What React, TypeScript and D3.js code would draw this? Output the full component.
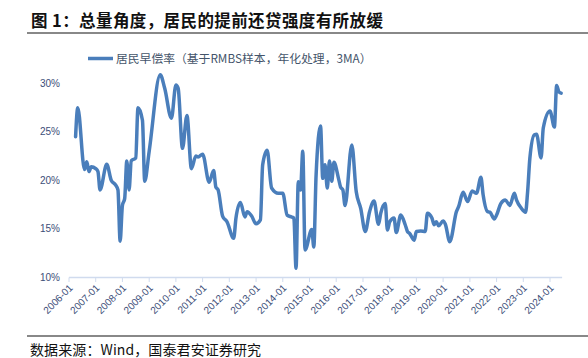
import React from "react";
import * as d3 from "d3";

const dates: string[] = [
  "2006-04","2006-05","2006-08","2006-09","2006-10","2006-11","2007-01","2007-02","2007-03","2007-06",
  "2007-08","2007-10","2007-11","2007-12","2008-01","2008-02","2008-03","2008-04","2008-05","2008-07",
  "2008-08","2008-10","2008-11","2009-01","2009-06","2009-08","2009-11","2010-01","2010-02","2010-04",
  "2010-06","2010-08","2010-10","2010-11","2011-01","2011-04","2011-06","2011-07","2011-08","2011-10",
  "2011-12","2012-03","2012-04","2012-06","2012-08","2012-09","2012-11","2013-01","2013-03","2013-04",
  "2013-06","2013-08","2013-11","2014-01","2014-03","2014-05","2014-06","2014-07","2014-08","2014-09",
  "2014-10","2014-11","2015-02","2015-03","2015-04","2015-06","2015-07","2015-08","2015-09","2015-10",
  "2015-11","2015-12","2016-02","2016-03","2016-04","2016-05","2016-08","2016-10","2016-12","2017-02",
  "2017-04","2017-06","2017-08","2017-09","2017-11","2017-12","2018-01","2018-03","2018-04","2018-06",
  "2018-08","2018-09","2018-10","2018-12","2019-01","2019-03","2019-05","2019-06","2019-08","2019-09",
  "2019-10","2019-11","2020-01","2020-02","2020-04","2020-07","2020-08","2020-10","2020-12","2021-02",
  "2021-04","2021-06","2021-07","2021-09","2021-10","2021-12","2022-01","2022-03","2022-05","2022-07",
  "2022-09","2022-10","2022-12","2023-02","2023-03","2023-04","2023-06","2023-07","2023-09","2023-10",
  "2024-01","2024-03","2024-04","2024-05","2024-06"
];

const prepayRate: number[] = [
  24.5,27.5,21.1,21.9,20.9,21.4,21.2,20.9,19.0,21.65,
  20.0,19.5,19.0,13.7,17.4,18.1,22.0,19.0,22.0,22.3,
  27.5,26.2,19.9,23.0,30.9,29.5,26.4,29.85,29.5,23.3,
  26.7,21.2,22.5,22.4,22.7,19.8,21.0,19.3,19.0,16.3,
  15.7,14.0,16.1,17.7,16.2,16.75,16.3,15.5,15.9,21.6,
  23.1,19.2,18.65,18.65,16.4,16.2,16.1,10.9,19.85,19.0,
  23.0,12.8,14.9,13.1,20.5,25.6,20.2,21.6,19.2,22.0,
  19.9,21.85,20.2,19.3,19.0,17.4,23.65,18.8,17.1,14.7,
  16.75,17.85,15.45,16.6,17.6,14.85,15.7,16.1,14.6,16.4,
  15.4,14.7,14.5,13.8,14.7,14.75,14.7,16.6,16.1,15.4,
  15.7,15.3,15.8,15.45,13.65,16.75,17.3,18.75,17.8,18.9,
  18.65,20.3,18.5,16.75,16.7,16.0,16.4,17.6,17.95,17.4,
  18.65,17.95,17.15,16.7,18.8,22.3,24.7,24.75,22.3,25.4,
  27.15,25.5,29.8,29.15,29.0
];

const yTicks: number[] = [10, 15, 20, 25, 30];
const xTickYears: number[] = [2006,2007,2008,2009,2010,2011,2012,2013,2014,2015,2016,2017,2018,2019,2020,2021,2022,2023,2024];

const titleText = "图 1：总量角度，居民的提前还贷强度有所放缓";
const legendText = "居民早偿率（基于RMBS样本，年化处理，3MA）";
const sourceText = "数据来源：Wind，国泰君安证券研究";

export default function App() {
  const W = 588, H = 358;
  const parse = d3.timeParse("%Y-%m");
  const data = dates.map((d, i) => ({ date: parse(d) as Date, value: prepayRate[i] }));

  const x = d3.scaleTime()
    .domain([new Date(2006, 0, 1), new Date(2024, 0, 1)])
    .range([69, 550]);
  const y = d3.scaleLinear().domain([10, 30]).range([277, 83.5]);

  const line = d3.line<{ date: Date; value: number }>()
    .x(d => x(d.date))
    .y(d => y(d.value))
    .curve(d3.curveMonotoneX);

  const axisEnd = x(data[data.length - 1].date) + 1;
  const labelColor = "#3C4E78";
  const axisColor = "#D0DBEE";
  const cjk = "'Noto Sans CJK SC', 'Noto Sans', sans-serif";
  const latin = "'Liberation Sans', Arial, sans-serif";

  return (
    <svg width={W} height={H} style={{ position: "absolute", left: 0, top: 0, background: "#fff" }}>
      <text x={31} y={27} fontFamily={cjk} fontWeight={700} fontSize={16.5} letterSpacing={0.4} fill="#111">{titleText}</text>
      <line x1={27} x2={588} y1={33} y2={33} stroke="#888" strokeWidth={2} />

      <line x1={88} x2={113} y1={58.5} y2={58.5} stroke="#4A7EBB" strokeWidth={3.5} />
      <text x={116} y={62.5} fontFamily={cjk} fontSize={11.8} fill="#44546A">{legendText}</text>

      {yTicks.map(t => (
        <text key={t} x={60} y={y(t) + 3.5} textAnchor="end" fontFamily={latin} fontSize={10} fill={labelColor}>{t}%</text>
      ))}

      <line x1={69} x2={axisEnd} y1={277.5} y2={277.5} stroke={axisColor} strokeWidth={1.5} />
      {xTickYears.map(yr => {
        const xx = x(new Date(yr, 0, 1));
        return (
          <g key={yr}>
            <line x1={xx} x2={xx} y1={277.5} y2={282} stroke={axisColor} strokeWidth={1} />
            <text
              transform={`translate(${xx + 2},${286}) rotate(-45)`}
              textAnchor="end"
              fontFamily={latin}
              fontSize={10}
              fill={labelColor}
              dy="0.35em"
            >{`${yr}-01`}</text>
          </g>
        );
      })}

      <path d={line(data) || ""} fill="none" stroke="#4A7EBB" strokeWidth={3.5} strokeLinejoin="round" strokeLinecap="round" />

      <line x1={27} x2={588} y1={336} y2={336} stroke="#888" strokeWidth={2} />
      <text x={30} y={355} fontFamily={cjk} fontSize={14} letterSpacing={0.1} fill="#111">{sourceText}</text>
    </svg>
  );
}
